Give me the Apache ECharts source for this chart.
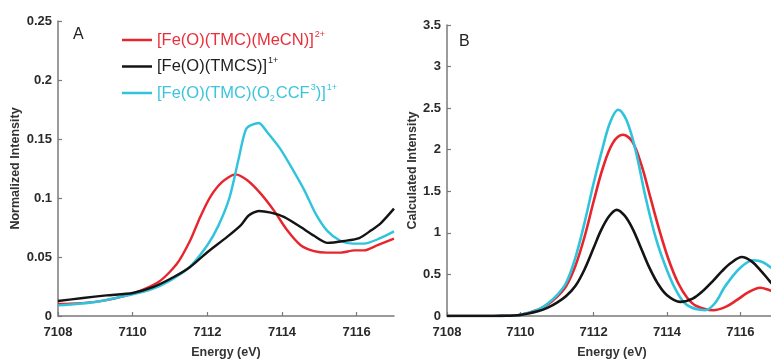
<!DOCTYPE html>
<html>
<head>
<meta charset="utf-8">
<script src="https://cdn.jsdelivr.net/npm/echarts@6/dist/echarts.min.js"></script>
<style>
  html, body { margin: 0; padding: 0; background: #fff; }
  #chart { width: 771px; height: 360px; }
</style>
</head>
<body>
<div id="chart"></div>
<script>
// Panel A: normalized Fe K pre-edge intensity (experimental)
const redA_E   = [7108, 7109, 7110, 7110.7, 7111.18, 7111.54, 7111.81, 7112.08, 7112.4, 7112.75, 7113.07, 7113.43, 7113.78, 7114.14, 7114.5, 7114.86, 7115.2, 7115.58, 7115.94, 7116.2, 7116.56, 7117];
const redA_I   = [0.0102, 0.012, 0.019, 0.029, 0.044, 0.064, 0.084, 0.101, 0.1136, 0.120, 0.115, 0.1037, 0.0895, 0.0726, 0.060, 0.055, 0.0537, 0.0537, 0.0556, 0.0556, 0.060, 0.0655];

const blackA_E = [7108, 7108.67, 7109.3, 7110, 7110.56, 7111.1, 7111.54, 7112, 7112.53, 7112.9, 7113.1, 7113.38, 7113.7, 7114.05, 7114.5, 7114.86, 7115.22, 7115.67, 7116.07, 7116.39, 7116.65, 7117];
const blackA_I = [0.0127, 0.0153, 0.0175, 0.0195, 0.0246, 0.033, 0.0415, 0.054, 0.067, 0.077, 0.085, 0.089, 0.0876, 0.084, 0.0754, 0.068, 0.062, 0.0636, 0.066, 0.0726, 0.0788, 0.091];

const cyanA_E  = [7108, 7109, 7110, 7110.5, 7111, 7111.5, 7112, 7112.3, 7112.6, 7112.85, 7113.05, 7113.38, 7113.6, 7113.95, 7114.3, 7114.6, 7114.9, 7115.2, 7115.55, 7115.9, 7116.2, 7116.6, 7117];
const cyanA_I  = [0.009, 0.0119, 0.0184, 0.0226, 0.030, 0.0407, 0.060, 0.0768, 0.101, 0.1347, 0.159, 0.1636, 0.156, 0.1418, 0.1234, 0.1065, 0.0867, 0.0726, 0.064, 0.0613, 0.0613, 0.0655, 0.0717];

// Panel B: calculated intensity (samples include each peak and valley)
const redB_E   = [7108, 7109, 7109.5, 7110, 7110.5, 7110.75, 7111, 7111.25, 7111.5, 7111.75, 7112, 7112.25, 7112.52, 7112.8, 7113.05, 7113.3, 7113.55, 7113.8, 7114.05, 7114.3, 7114.55, 7114.8, 7115.26, 7115.6, 7115.9, 7116.2, 7116.54, 7116.8, 7117];
const redB_I   = [0, 0, 0.002, 0.015, 0.08, 0.14, 0.23, 0.36, 0.60, 0.95, 1.38, 1.78, 2.08, 2.18, 2.10, 1.82, 1.42, 1.02, 0.67, 0.40, 0.22, 0.12, 0.07, 0.11, 0.19, 0.28, 0.34, 0.31, 0.28];

const blackB_E = [7108, 7109, 7109.5, 7110, 7110.5, 7110.75, 7111, 7111.25, 7111.5, 7111.75, 7112, 7112.2, 7112.42, 7112.63, 7112.84, 7113.05, 7113.27, 7113.5, 7113.75, 7114, 7114.36, 7114.7, 7115, 7115.25, 7115.5, 7115.75, 7116.04, 7116.3, 7116.55, 7116.8, 7117];
const blackB_I = [0, 0, 0.002, 0.013, 0.06, 0.10, 0.16, 0.24, 0.36, 0.56, 0.82, 1.03, 1.20, 1.277, 1.21, 1.06, 0.84, 0.60, 0.39, 0.25, 0.17, 0.21, 0.31, 0.42, 0.54, 0.64, 0.71, 0.66, 0.55, 0.42, 0.32];

const cyanB_E  = [7108, 7109, 7109.5, 7110, 7110.5, 7110.75, 7111, 7111.25, 7111.5, 7111.75, 7112, 7112.22, 7112.45, 7112.67, 7112.9, 7113.15, 7113.41, 7113.7, 7114, 7114.27, 7114.55, 7115.04, 7115.3, 7115.59, 7116, 7116.36, 7116.6, 7116.84, 7117];
const cyanB_I  = [0, 0, 0.002, 0.015, 0.08, 0.15, 0.25, 0.40, 0.70, 1.12, 1.60, 1.98, 2.33, 2.48, 2.35, 1.98, 1.44, 0.93, 0.55, 0.29, 0.13, 0.07, 0.15, 0.36, 0.58, 0.67, 0.65, 0.58, 0.52];

// Axis ranges and tick steps
const energyRange = [7108, 7117];
const energyStep = 2;
const rangeA = [0, 0.25];
const stepA = 0.05;
const rangeB = [0, 3.5];
const stepB = 0.5;

const names = ['MeCN', 'TMCS', 'TFA'];
const legendRich = {
  MeCN: '[Fe(O)(TMC)(MeCN)]{sup|2+}',
  TMCS: '[Fe(O)(TMCS)]{sup|1+}',
  TFA:  '[Fe(O)(TMC)(O{sub|2}CCF{sup|3})]{sup|1+}'
};
const colors = { MeCN: '#e8242c', TMCS: '#141414', TFA: '#2fc3dc' };
const legendTextColors = { MeCN: '#e8303a', TMCS: '#1e1e1e', TFA: '#3cc4dd' };

const zip = (xs, ys) => xs.map((x, i) => [x, ys[i]]);

const FONT = 'Arial, "Liberation Sans", Helvetica, sans-serif';
const axisGray = '#7a7a7a';

function xAxisFor(gridIndex) {
  return {
    gridIndex, type: 'value', min: energyRange[0], max: energyRange[1], interval: energyStep,
    name: 'Energy (eV)', nameLocation: 'middle', nameGap: 30,
    nameTextStyle: { fontFamily: FONT, fontWeight: 'bold', fontSize: 12.5, color: '#333' },
    axisLine: { lineStyle: { color: axisGray, width: 1.5 } },
    axisTick: { inside: true, length: 4, lineStyle: { color: axisGray, width: 1.2 } },
    axisLabel: {
      margin: 10, fontFamily: FONT, fontWeight: 'bold', fontSize: 13, color: '#2a2a2a',
      showMaxLabel: false,
      formatter: v => ((v - energyRange[0]) % energyStep === 0 ? String(v) : '')
    },
    splitLine: { show: false }
  };
}

function yAxisFor(gridIndex, range, step, title, gap) {
  return {
    gridIndex, type: 'value', min: range[0], max: range[1], interval: step,
    name: title, nameLocation: 'middle', nameGap: gap, nameRotate: 90,
    nameTextStyle: { fontFamily: FONT, fontWeight: 'bold', fontSize: 12.5, color: '#333' },
    axisLine: { show: true, lineStyle: { color: axisGray, width: 1.5 } },
    axisTick: { show: true, inside: true, length: 4, lineStyle: { color: axisGray, width: 1.2 } },
    axisLabel: { margin: 6, fontFamily: FONT, fontWeight: 'bold', fontSize: 13, color: '#2a2a2a' },
    splitLine: { show: false }
  };
}

function lineSeries(name, xIdx, data, width, smooth) {
  return {
    name, type: 'line', xAxisIndex: xIdx, yAxisIndex: xIdx, data,
    showSymbol: false, symbol: 'none', smooth, clip: true,
    lineStyle: { color: colors[name], width },
    itemStyle: { color: colors[name] },
    z: name === 'TMCS' ? 3 : 2
  };
}

const chart = echarts.init(document.getElementById('chart'), null, { renderer: 'canvas' });

chart.setOption({
  animation: false,
  backgroundColor: '#ffffff',
  grid: [
    { left: 58, top: 21, width: 336, bottom: 44, containLabel: false, outerBoundsMode: 'none' },
    { left: 447, top: 25, right: -6, bottom: 44, containLabel: false, outerBoundsMode: 'none' }
  ],
  xAxis: [xAxisFor(0), xAxisFor(1)],
  yAxis: [
    yAxisFor(0, rangeA, stepA, 'Normalized Intensity', 36),
    yAxisFor(1, rangeB, stepB, 'Calculated Intensity', 28)
  ],
  legend: {
    orient: 'vertical', left: 122, top: 30, itemGap: 6.5, padding: 0,
    itemWidth: 30, itemHeight: 2.5, icon: 'rect', selectedMode: false,
    data: names.map(n => ({ name: n, textStyle: { color: legendTextColors[n] } })),
    formatter: n => legendRich[n],
    textStyle: {
      fontFamily: FONT, fontSize: 16.5, lineHeight: 20,
      rich: {
        sup: { fontSize: 9, verticalAlign: 'top', lineHeight: 20, padding: [0, 0, 7, 1] },
        sub: { fontSize: 9, verticalAlign: 'bottom', lineHeight: 14, padding: [6, 1, 0, 0] }
      }
    }
  },
  graphic: [
    { type: 'text', left: 73, top: 27, style: { text: 'A', font: '16px ' + FONT, fill: '#222' } },
    { type: 'text', left: 459, top: 34, style: { text: 'B', font: '16px ' + FONT, fill: '#222' } }
  ],
  series: [
    lineSeries('MeCN', 0, zip(redA_E, redA_I), 2.4, 0.25),
    lineSeries('TMCS', 0, zip(blackA_E, blackA_I), 2.4, 0.25),
    lineSeries('TFA', 0, zip(cyanA_E, cyanA_I), 2.4, 0.25),
    lineSeries('MeCN', 1, zip(redB_E, redB_I), 2.6, 0.35),
    lineSeries('TMCS', 1, zip(blackB_E, blackB_I), 2.6, 0.35),
    lineSeries('TFA', 1, zip(cyanB_E, cyanB_I), 2.6, 0.35)
  ]
});
</script>
</body>
</html>
